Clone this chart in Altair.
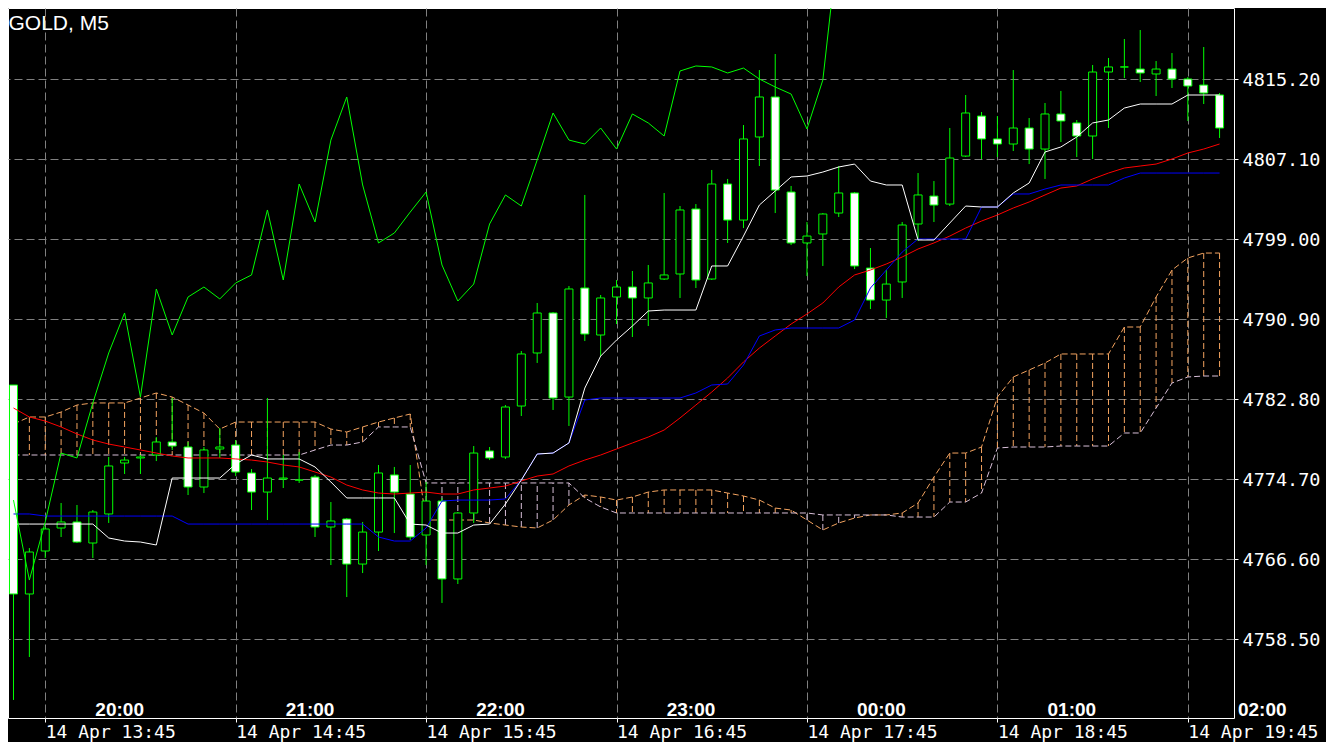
import altair as alt
import pandas as pd

# ---------------- data ----------------
symbol_title = "GOLD, M5"

opens = [4784.25, 4763.09, 4767.44, 4769.77, 4770.38, 4768.25, 4771.19, 4776.35, 4776.86, 4777.16,
         4778.48, 4777.97, 4773.92, 4777.77, 4778.17, 4775.34, 4773.41, 4774.73, 4774.63, 4774.93,
         4769.87, 4770.68, 4766.12, 4769.36, 4775.14, 4773.21, 4769.06, 4772.50, 4764.61, 4771.29,
         4777.57, 4776.96, 4782.12, 4787.49, 4791.54, 4783.03, 4794.07, 4789.31, 4793.16, 4794.17,
         4793.06, 4794.98, 4795.49, 4802.07, 4794.98, 4804.60, 4800.95, 4809.36, 4813.41, 4803.79,
         4798.63, 4799.54, 4801.66, 4803.69, 4796.09, 4792.85, 4794.68, 4800.55, 4803.38, 4802.57,
         4807.43, 4811.48, 4809.16, 4808.65, 4810.27, 4808.14, 4811.69, 4810.78, 4809.46, 4815.94,
         4816.45, 4816.24, 4815.74, 4816.24, 4815.23, 4814.62, 4813.61]
highs = [4784.25, 4767.74, 4769.87, 4772.30, 4772.10, 4771.59, 4776.96, 4776.96, 4777.16, 4778.98,
         4782.93, 4778.48, 4777.97, 4779.89, 4778.68, 4775.74, 4782.93, 4777.16, 4777.46, 4775.14,
         4772.40, 4770.78, 4770.38, 4776.15, 4775.95, 4776.15, 4774.43, 4772.81, 4771.39, 4778.07,
         4777.97, 4782.22, 4787.69, 4792.55, 4791.64, 4794.27, 4803.49, 4793.36, 4794.88, 4795.79,
         4796.40, 4803.69, 4802.37, 4802.57, 4806.02, 4805.11, 4810.57, 4816.14, 4817.76, 4804.40,
         4800.75, 4801.66, 4806.42, 4803.79, 4798.12, 4795.89, 4800.75, 4805.71, 4804.90, 4810.27,
         4813.61, 4811.89, 4811.48, 4816.14, 4811.28, 4812.80, 4814.02, 4811.08, 4816.65, 4817.36,
         4819.28, 4820.19, 4817.05, 4817.86, 4815.43, 4818.47, 4813.81]
lows = [4752.36, 4756.71, 4766.73, 4768.86, 4768.25, 4766.73, 4770.28, 4775.24, 4775.24, 4776.55,
        4777.67, 4773.11, 4773.31, 4776.86, 4775.03, 4771.59, 4770.58, 4773.82, 4774.33, 4768.86,
        4766.02, 4762.78, 4765.21, 4767.44, 4769.26, 4768.55, 4766.02, 4762.18, 4764.10, 4770.28,
        4776.65, 4776.76, 4781.11, 4786.48, 4781.72, 4780.10, 4788.70, 4787.18, 4790.42, 4789.11,
        4790.22, 4794.88, 4793.06, 4794.07, 4794.88, 4798.63, 4800.14, 4806.42, 4801.66, 4798.42,
        4795.28, 4796.30, 4801.26, 4795.99, 4791.94, 4791.03, 4793.06, 4798.83, 4800.75, 4802.37,
        4807.33, 4807.13, 4807.33, 4807.94, 4806.62, 4805.11, 4808.85, 4807.33, 4807.13, 4810.27,
        4815.33, 4814.93, 4813.51, 4814.32, 4810.98, 4812.70, 4809.26]
closes = [4763.09, 4767.34, 4769.67, 4770.38, 4768.35, 4771.39, 4776.05, 4776.65, 4776.96, 4778.48,
          4778.07, 4773.92, 4777.67, 4777.97, 4775.44, 4773.41, 4774.83, 4774.83, 4774.63, 4769.87,
          4770.48, 4766.12, 4769.36, 4775.34, 4773.41, 4768.86, 4772.50, 4764.61, 4771.29, 4777.36,
          4776.86, 4782.02, 4787.39, 4791.54, 4782.93, 4793.97, 4789.41, 4793.06, 4794.17, 4793.06,
          4794.58, 4795.39, 4801.97, 4794.88, 4804.60, 4800.95, 4809.16, 4813.41, 4803.99, 4798.63,
          4799.33, 4801.56, 4803.69, 4796.30, 4792.85, 4794.47, 4800.45, 4803.49, 4802.47, 4807.23,
          4811.79, 4809.16, 4808.65, 4810.27, 4808.14, 4811.69, 4810.98, 4809.46, 4815.94, 4816.45,
          4816.45, 4815.84, 4816.24, 4815.23, 4814.52, 4813.81, 4810.27]

tenkan = [4770.17, 4770.17, 4770.17, 4770.17, 4770.17, 4770.17, 4768.76, 4768.45, 4768.35, 4768.05,
          4774.83, 4774.83, 4774.83, 4774.83, 4776.25, 4777.16, 4776.76, 4776.76, 4776.76, 4775.95,
          4774.43, 4772.81, 4772.81, 4772.81, 4772.81, 4770.17, 4770.07, 4769.26, 4769.26, 4770.07,
          4770.17, 4772.20, 4774.63, 4777.26, 4777.36, 4778.38, 4783.94, 4787.18, 4788.80, 4790.22,
          4791.74, 4791.84, 4791.84, 4791.84, 4796.30, 4796.30, 4799.33, 4802.47, 4803.89, 4805.31,
          4805.41, 4805.81, 4806.32, 4806.62, 4804.90, 4804.50, 4804.50, 4798.93, 4798.93, 4800.65,
          4802.37, 4802.27, 4802.27, 4803.69, 4804.70, 4807.84, 4808.35, 4809.36, 4810.78, 4811.08,
          4812.29, 4812.70, 4812.70, 4812.70, 4813.61, 4813.61, 4813.61]
kijun = [4771.19, 4771.19, 4770.98, 4770.98, 4770.98, 4770.98, 4770.98, 4770.98, 4770.98, 4770.98,
         4770.98, 4770.17, 4770.17, 4770.17, 4770.17, 4770.17, 4770.17, 4770.17, 4770.17, 4770.17,
         4770.17, 4770.17, 4770.17, 4768.86, 4768.45, 4768.45, 4769.77, 4772.50, 4772.60, 4772.60,
         4772.60, 4772.71, 4774.63, 4777.26, 4777.36, 4778.38, 4782.73, 4782.93, 4782.93, 4782.93,
         4782.93, 4782.93, 4782.93, 4783.44, 4784.25, 4784.35, 4786.27, 4789.21, 4789.82, 4790.02,
         4790.02, 4790.02, 4790.02, 4790.83, 4794.07, 4795.89, 4797.71, 4799.03, 4799.03, 4799.03,
         4799.03, 4802.27, 4802.27, 4803.59, 4803.59, 4804.09, 4804.50, 4804.50, 4804.50, 4804.50,
         4805.21, 4805.71, 4805.71, 4805.71, 4805.71, 4805.71, 4805.71]
moving_avg = [4781.92, 4781.01, 4780.60, 4780.00, 4779.29, 4778.68, 4778.27, 4777.97, 4777.67, 4777.36,
              4777.06, 4776.86, 4776.86, 4776.86, 4776.76, 4776.65, 4776.45, 4776.15, 4775.95, 4775.44,
              4774.93, 4774.12, 4773.62, 4773.31, 4773.21, 4773.31, 4773.41, 4773.21, 4773.21, 4773.62,
              4773.82, 4774.02, 4774.53, 4775.03, 4775.24, 4776.05, 4776.65, 4777.16, 4777.77, 4778.38,
              4778.98, 4779.69, 4780.91, 4782.22, 4783.54, 4784.96, 4786.58, 4787.99, 4789.21, 4790.42,
              4791.44, 4792.55, 4794.17, 4795.39, 4795.89, 4796.50, 4797.21, 4798.02, 4798.63, 4799.33,
              4800.14, 4800.85, 4801.46, 4802.17, 4802.78, 4803.49, 4804.19, 4804.40, 4805.11, 4805.71,
              4806.22, 4806.42, 4806.62, 4807.13, 4807.74, 4808.14, 4808.65]
span_a = [4780.30, 4781.01, 4781.01, 4781.51, 4782.22, 4782.43, 4782.43, 4782.43, 4782.93, 4783.44,
          4783.03, 4782.22, 4781.41, 4779.79, 4780.50, 4780.50, 4780.50, 4780.50, 4780.50, 4780.50,
          4779.79, 4779.49, 4780.00, 4780.50, 4780.91, 4781.31, 4770.58, 4770.58, 4770.58, 4770.58,
          4770.28, 4770.07, 4769.87, 4769.77, 4770.58, 4772.10, 4773.11, 4772.91, 4772.60, 4772.91,
          4773.41, 4773.62, 4773.62, 4773.62, 4773.62, 4773.31, 4773.01, 4772.60, 4771.79, 4771.59,
          4770.58, 4769.57, 4770.28, 4770.78, 4771.09, 4771.09, 4771.29, 4772.30, 4774.93, 4777.36,
          4777.36, 4777.97, 4783.03, 4785.06, 4785.77, 4786.48, 4787.39, 4787.39, 4787.39, 4787.39,
          4790.12, 4790.12, 4793.16, 4795.89, 4797.11, 4797.61, 4797.61]
span_b = [4777.16, 4777.16, 4777.16, 4777.16, 4777.16, 4777.16, 4777.16, 4777.16, 4777.16, 4777.16,
          4777.16, 4777.16, 4777.16, 4777.16, 4777.16, 4777.16, 4777.16, 4777.16, 4777.16, 4777.67,
          4778.17, 4778.17, 4778.48, 4780.00, 4780.00, 4780.00, 4774.33, 4774.33, 4774.33, 4774.33,
          4774.33, 4774.33, 4774.33, 4774.33, 4774.33, 4774.33, 4772.81, 4771.90, 4771.29, 4771.29,
          4771.29, 4771.29, 4771.29, 4771.29, 4771.29, 4771.29, 4771.29, 4771.29, 4771.29, 4771.29,
          4771.29, 4771.09, 4771.09, 4771.09, 4771.09, 4771.09, 4770.88, 4770.88, 4770.88, 4772.40,
          4772.40, 4773.31, 4777.87, 4777.97, 4777.97, 4777.97, 4778.07, 4778.07, 4778.07, 4778.07,
          4779.39, 4779.39, 4781.92, 4784.45, 4785.06, 4785.16, 4785.16]
chikou = [4772.60, 4764.50, 4770.38, 4777.36, 4776.86, 4782.43, 4787.49, 4791.54, 4783.03, 4793.97,
          4789.31, 4793.16, 4794.17, 4792.96, 4794.58, 4795.39, 4801.97, 4794.88, 4804.60, 4800.75,
          4809.05, 4813.41, 4804.50, 4798.63, 4799.64, 4801.76, 4803.79, 4796.40, 4792.75, 4794.47,
          4800.55, 4803.49, 4802.37, 4807.03, 4811.79, 4809.05, 4808.65, 4810.27, 4808.14, 4811.69,
          4810.78, 4809.46, 4816.04, 4816.55, 4816.45, 4815.84, 4816.34, 4815.23, 4814.42, 4813.71,
          4810.17, 4815.13, 4829.51]

price_ticks = [4758.50, 4766.60, 4774.70, 4782.80, 4790.90, 4799.00, 4807.10, 4815.20]
time_tick_bars = [2, 14, 26, 38, 50, 62, 74]
time_tick_labels = ["14 Apr 13:45", "14 Apr 14:45", "14 Apr 15:45", "14 Apr 16:45",
                    "14 Apr 17:45", "14 Apr 18:45", "14 Apr 19:45"]
local_hour_labels = ["20:00", "21:00", "22:00", "23:00", "00:00", "01:00", "02:00"]

# ---------------- tables ----------------
n = len(closes)
df = pd.DataFrame({
    "i": list(range(n)), "open": opens, "high": highs, "low": lows, "close": closes,
    "tenkan": tenkan, "kijun": kijun, "ma": moving_avg, "span_a": span_a, "span_b": span_b,
})
df_chikou = pd.DataFrame({"i": list(range(len(chikou))), "chikou": chikou})
first_local = 6.69  # bar offset where the first local-hour label is centred
df_local = pd.DataFrame({"lab": local_hour_labels,
                         "pos": [first_local + 12 * k for k in range(len(local_hour_labels))]})
df_title = pd.DataFrame({"t": [symbol_title]})

# ---------------- scales / axes ----------------
W, H = 1226, 710
xs = alt.Scale(domain=[-0.03125, 76.59375], nice=False, zero=False)
ys = alt.Scale(domain=[4750.5325, 4822.42], nice=False, zero=False)

label_expr = " : ".join(
    f"datum.value == {b} ? '{t}'" for b, t in zip(time_tick_bars, time_tick_labels)) + " : ''"

x_axis = alt.Axis(values=time_tick_bars, labelExpr=label_expr, orient="bottom", title=None,
                  labelAlign="left", labelBaseline="alphabetic", labelPadding=15, tickSize=4,
                  labelFont="DejaVu Sans Mono", labelFontSize=18, labelColor="white",
                  tickColor="white", domain=False, grid=True, gridColor="#808080",
                  gridDash=[8, 4], labelOverlap=False, labelFlush=False)
y_axis = alt.Axis(values=price_ticks, format=".2f", orient="right", title=None,
                  labelBaseline="middle", labelPadding=4, tickSize=4,
                  labelFont="DejaVu Sans Mono", labelFontSize=18.5, labelColor="white",
                  tickColor="white", domain=False, grid=True, gridColor="#808080",
                  gridDash=[8, 4], labelOverlap=False, labelFlush=False)


def X(field="i"):
    return alt.X(f"{field}:Q", scale=xs, axis=x_axis)


def Y(field):
    return alt.Y(f"{field}:Q", scale=ys, axis=y_axis)


# ---------------- layers ----------------
kumo_hatch = alt.Chart(df).mark_rule(strokeWidth=1, strokeDash=[6, 3]).encode(
    x=X(), y=Y("span_a"), y2="span_b:Q",
    color=alt.condition("datum.span_a >= datum.span_b", alt.value("#F4A460"), alt.value("#D8BFD8")))
span_a_line = alt.Chart(df).mark_line(color="#F4A460", strokeWidth=1, strokeDash=[6, 3]).encode(
    x=X(), y=Y("span_a"))
span_b_line = alt.Chart(df).mark_line(color="#D8BFD8", strokeWidth=1, strokeDash=[6, 3]).encode(
    x=X(), y=Y("span_b"))

wicks = alt.Chart(df).mark_rule(color="#00FF00", strokeWidth=1).encode(
    x=X(), y=Y("low"), y2="high:Q")
bodies = alt.Chart(df).mark_bar(size=8, stroke="#00FF00", strokeWidth=1).encode(
    x=X(), y=Y("open"), y2="close:Q",
    fill=alt.condition("datum.close < datum.open", alt.value("white"), alt.value("black")))

ma_line = alt.Chart(df).mark_line(color="#FF0000", strokeWidth=1).encode(x=X(), y=Y("ma"))
kijun_line = alt.Chart(df).mark_line(color="#0000FF", strokeWidth=1).encode(x=X(), y=Y("kijun"))
tenkan_line = alt.Chart(df).mark_line(color="#FFFFFF", strokeWidth=1).encode(x=X(), y=Y("tenkan"))
chikou_line = alt.Chart(df_chikou).mark_line(color="#00FF00", strokeWidth=1, clip=True).encode(
    x=X(), y=Y("chikou"))

local_labels = alt.Chart(df_local).mark_text(
    font="Liberation Sans", fontWeight="bold", fontSize=19, color="white",
    align="center", baseline="alphabetic").encode(
    x=X("pos"), y=alt.value(707.7), text="lab:N")
title_text = alt.Chart(df_title).mark_text(
    font="Liberation Sans", fontSize=21, color="white", align="left",
    baseline="alphabetic").encode(x=alt.value(0.5), y=alt.value(21.5), text="t:N")

chart = alt.layer(
    kumo_hatch, span_a_line, span_b_line, wicks, bodies,
    ma_line, kijun_line, tenkan_line, chikou_line, local_labels, title_text,
).properties(
    width=W, height=H,
    padding={"left": 0, "top": 0, "right": 92, "bottom": 24},
    autosize=alt.AutoSizeParams(type="none"),
).configure(background="black").configure_view(stroke="white", strokeWidth=1)

chart.save("out.html", embed_options={"renderer": "svg", "actions": False})
